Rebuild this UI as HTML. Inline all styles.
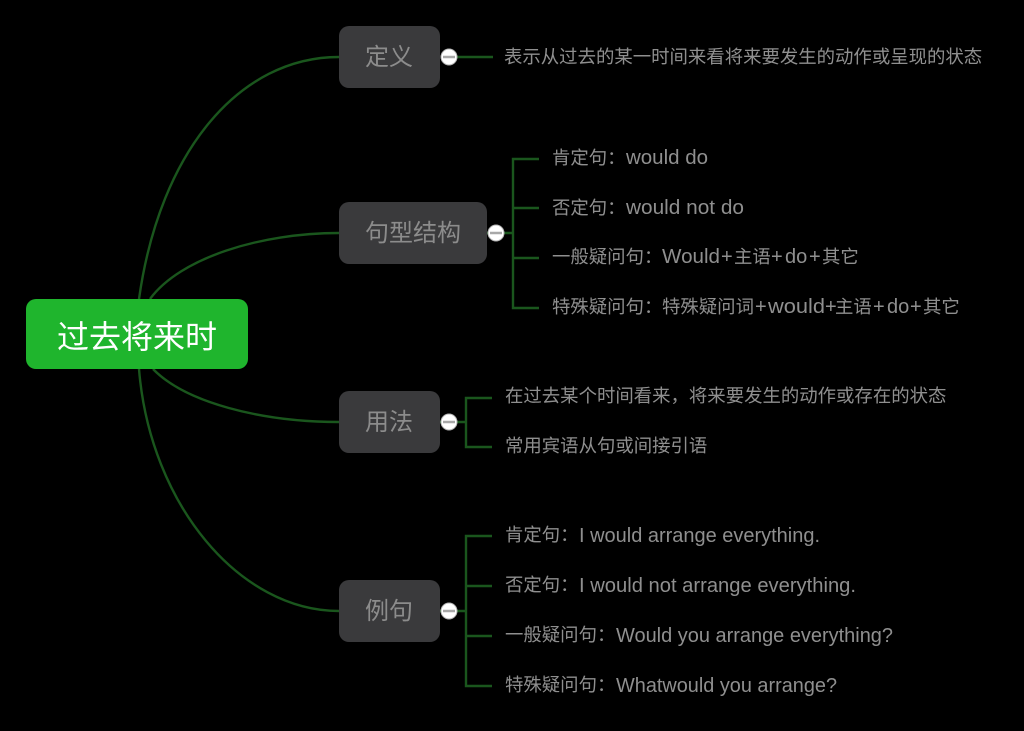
<!DOCTYPE html>
<html lang="zh">
<head>
<meta charset="utf-8">
<style>
html,body{margin:0;padding:0;background:#000;width:1024px;height:731px;overflow:hidden}
svg{display:block}
text{font-family:"Liberation Sans","Noto Sans CJK SC",sans-serif;font-weight:400;fill:#8f8f8f;font-size:18.4px}
.e{font-size:20px}
.n{font-size:24px;text-anchor:middle;fill:#8c8c8c}
.r{font-size:32px;fill:#fff;text-anchor:middle}
.l{fill:none;stroke:#1a561d;stroke-width:2.4}
.m{stroke:#a8a8a8;stroke-width:2.4}
</style>
</head>
<body>
<svg width="1024" height="731" viewBox="0 0 1024 731" xmlns="http://www.w3.org/2000/svg">
<rect width="1024" height="731" fill="#000"/>
<g class="l">
<path d="M139 299C160 150 240 57 339 57"/>
<path d="M150 299C180 258 260 233 339 233"/>
<path d="M153 369C185 402 260 422 339 422"/>
<path d="M139 369C150 505 240 611 339 611"/>
<path d="M449 57H493"/>
<path d="M487 233H513M539 159H513V308H539M513 208H539M513 258H539"/>
<path d="M440 422H466M492 398H466V447H492"/>
<path d="M440 611H466M492 536H466V686H492M466 586H492M466 636H492"/>
</g>
<rect x="26" y="299" width="222" height="70" rx="10" fill="#1fb52d"/>
<text class="r" x="137" y="348">过去将来时</text>
<rect x="339" y="26" width="101" height="62" rx="10" fill="#3a3a3c"/>
<text class="n" x="389" y="65">定义</text>
<rect x="339" y="202" width="148" height="62" rx="10" fill="#3a3a3c"/>
<text class="n" x="413" y="241">句型结构</text>
<rect x="339" y="391" width="101" height="62" rx="10" fill="#3a3a3c"/>
<text class="n" x="389" y="430">用法</text>
<rect x="339" y="580" width="101" height="62" rx="10" fill="#3a3a3c"/>
<text class="n" x="389" y="619">例句</text>
<g fill="#fff" stroke="#b5b5b5" stroke-width="1">
<circle cx="449" cy="57" r="8"/>
<circle cx="496" cy="233" r="8"/>
<circle cx="449" cy="422" r="8"/>
<circle cx="449" cy="611" r="8"/>
</g>
<path class="m" d="M443 57H455M490 233H502M443 422H455M443 611H455"/>

<text x="504" y="63">表示从过去的某一时间来看将来要发生的动作或呈现的状态</text>

<text x="552" y="164">肯定句：</text>
<text class="e" x="626" y="164" textLength="82" lengthAdjust="spacingAndGlyphs">would do</text>
<text x="552" y="214">否定句：</text>
<text class="e" x="626" y="214" textLength="118" lengthAdjust="spacingAndGlyphs">would not do</text>
<text x="552" y="263">一般疑问句：</text>
<text class="e" x="662" y="263" textLength="58" lengthAdjust="spacingAndGlyphs">Would</text>
<text class="e" x="721" y="263">+</text>
<text x="734" y="263">主语</text>
<text class="e" x="771" y="263">+</text>
<text class="e" x="785" y="263">do</text>
<text class="e" x="809" y="263">+</text>
<text x="822" y="263">其它</text>
<text x="552" y="313">特殊疑问句：</text>
<text x="662" y="313">特殊疑问词</text>
<text class="e" x="755" y="313">+</text>
<text class="e" x="768" y="313" textLength="57" lengthAdjust="spacingAndGlyphs">would</text>
<text class="e" x="825" y="313">+</text>
<text x="835" y="313">主语</text>
<text class="e" x="873" y="313">+</text>
<text class="e" x="887" y="313">do</text>
<text class="e" x="910" y="313">+</text>
<text x="923" y="313">其它</text>

<text x="505" y="402">在过去某个时间看来，将来要发生的动作或存在的状态</text>
<text x="505" y="452">常用宾语从句或间接引语</text>

<text x="505" y="541">肯定句：</text>
<text class="e" x="579" y="542" textLength="241" lengthAdjust="spacingAndGlyphs">I would arrange everything.</text>
<text x="505" y="591">否定句：</text>
<text class="e" x="579" y="592" textLength="277" lengthAdjust="spacingAndGlyphs">I would not arrange everything.</text>
<text x="505" y="641">一般疑问句：</text>
<text class="e" x="616" y="642" textLength="277" lengthAdjust="spacingAndGlyphs">Would you arrange everything?</text>
<text x="505" y="691">特殊疑问句：</text>
<text class="e" x="616" y="692" textLength="221" lengthAdjust="spacingAndGlyphs">Whatwould you arrange?</text>
</svg>
</body>
</html>
